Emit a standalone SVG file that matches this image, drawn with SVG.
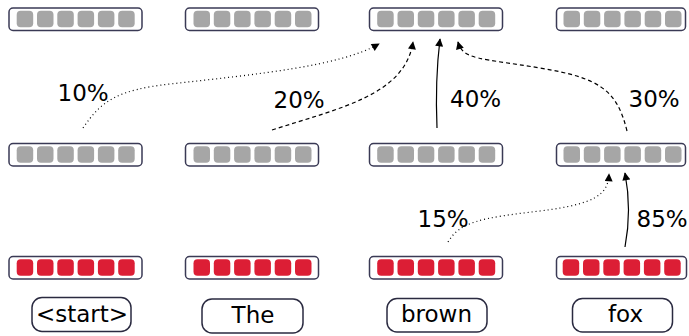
<svg xmlns="http://www.w3.org/2000/svg" width="689" height="336" viewBox="0 0 689 336">
<style>
.box{fill:#fff;stroke:#3a3a55;stroke-width:1.5}
.g{fill:#a6a6a6}
.r{fill:#dc1e35}
.lbl{font-family:"DejaVu Sans",sans-serif;font-size:23px;fill:#000}
.pct{font-family:"DejaVu Sans",sans-serif;font-size:23px;fill:#000}
.word{fill:#fff;stroke:#2a2a40;stroke-width:1.5}
.c{fill:none;stroke:#000;stroke-width:1.2}
.dot{stroke-dasharray:1 3}
.dash{stroke-dasharray:4 3}
</style>
<defs>
<marker id="ah" viewBox="0 0 10 10" refX="9" refY="5" markerWidth="9" markerHeight="8" markerUnits="userSpaceOnUse" orient="auto">
<path d="M0,0 L10,5 L0,10 Z" fill="#000"/>
</marker>
<g id="gcells">
<rect x="0" y="0" width="16.5" height="16.5" rx="4"/>
<rect x="20.3" y="0" width="16.5" height="16.5" rx="4"/>
<rect x="40.6" y="0" width="16.5" height="16.5" rx="4"/>
<rect x="60.9" y="0" width="16.5" height="16.5" rx="4"/>
<rect x="81.2" y="0" width="16.5" height="16.5" rx="4"/>
<rect x="101.5" y="0" width="16.5" height="16.5" rx="4"/>
</g>
</defs>

<g id="top-row">
<g id="top1"><rect class="box" x="9" y="8" width="133" height="22.5" rx="4"/><use href="#gcells" class="g" x="16.7" y="10.8"/></g>
<g id="top2"><rect class="box" x="185.5" y="8" width="133" height="22.5" rx="4"/><use href="#gcells" class="g" x="193.5" y="10.8"/></g>
<g id="top3"><rect class="box" x="369.5" y="8" width="133" height="22.5" rx="4"/><use href="#gcells" class="g" x="377.2" y="10.8"/></g>
<g id="top4"><rect class="box" x="556.5" y="8" width="129" height="22.5" rx="4"/><use href="#gcells" class="g" x="563.5" y="10.8"/></g>
</g>

<g id="mid-row">
<g id="mid1"><rect class="box" x="9" y="143.5" width="133" height="22.5" rx="4"/><use href="#gcells" class="g" x="16.7" y="146.3"/></g>
<g id="mid2"><rect class="box" x="185.5" y="143.5" width="133" height="22.5" rx="4"/><use href="#gcells" class="g" x="193.5" y="146.3"/></g>
<g id="mid3"><rect class="box" x="369.5" y="143.5" width="133" height="22.5" rx="4"/><use href="#gcells" class="g" x="377.2" y="146.3"/></g>
<g id="mid4"><rect class="box" x="556.5" y="143.5" width="129" height="22.5" rx="4"/><use href="#gcells" class="g" x="563.5" y="146.3"/></g>
</g>

<g id="emb-row">
<g id="emb1"><rect class="box" x="9" y="256.5" width="133" height="22.5" rx="4"/><use href="#gcells" class="r" x="16.7" y="259.3"/></g>
<g id="emb2"><rect class="box" x="185.5" y="256.5" width="133" height="22.5" rx="4"/><use href="#gcells" class="r" x="193.5" y="259.3"/></g>
<g id="emb3"><rect class="box" x="369.5" y="256.5" width="133" height="22.5" rx="4"/><use href="#gcells" class="r" x="377.2" y="259.3"/></g>
<g id="emb4"><rect class="box" x="556.5" y="256.5" width="130" height="22.5" rx="4"/><use href="#gcells" class="r" x="562.7" y="259.3"/></g>
</g>

<g id="words">
<g id="w-start"><rect class="word" x="32" y="297.5" width="99" height="34" rx="10"/><text class="lbl" x="82" y="322" text-anchor="middle">&lt;start&gt;</text></g>
<g id="w-the"><rect class="word" x="202" y="299" width="101" height="34" rx="10"/><text class="lbl" x="253" y="322.5" text-anchor="middle">The</text></g>
<g id="w-brown"><rect class="word" x="387" y="298.5" width="100" height="33.5" rx="10"/><text class="lbl" x="436.5" y="322" text-anchor="middle">brown</text></g>
<g id="w-fox"><rect class="word" x="572.5" y="298.5" width="100" height="33.5" rx="10"/><text class="lbl" x="625.5" y="322" text-anchor="middle">fox</text></g>
</g>

<g id="connectors">
<path class="c dot" d="M83,128 C102,100 118,90 170,84 C260,74 340,66 379,44" marker-end="url(#ah)"/>
<path class="c dash" d="M272,130 C340,108 405,95 413,42" marker-end="url(#ah)"/>
<path class="c" d="M437,128 Q435,80 440,39" marker-end="url(#ah)"/>
<path class="c dash" d="M627,131 C617,90 600,78 540,68 C480,58 463,60 458,42" marker-end="url(#ah)"/>
<path class="c dot" d="M448,242 C460,222 480,218 540,211 C595,204 608,195 609,174" marker-end="url(#ah)"/>
<path class="c" d="M625,247 Q632,210 625,173" marker-end="url(#ah)"/>
</g>

<g id="labels">
<text class="pct" x="57.5" y="101">10%</text>
<text class="pct" x="273.5" y="107.5">20%</text>
<text class="pct" x="450" y="107">40%</text>
<text class="pct" x="628.5" y="107">30%</text>
<text class="pct" x="417.5" y="226.5">15%</text>
<text class="pct" x="636.5" y="227">85%</text>
</g>
</svg>
